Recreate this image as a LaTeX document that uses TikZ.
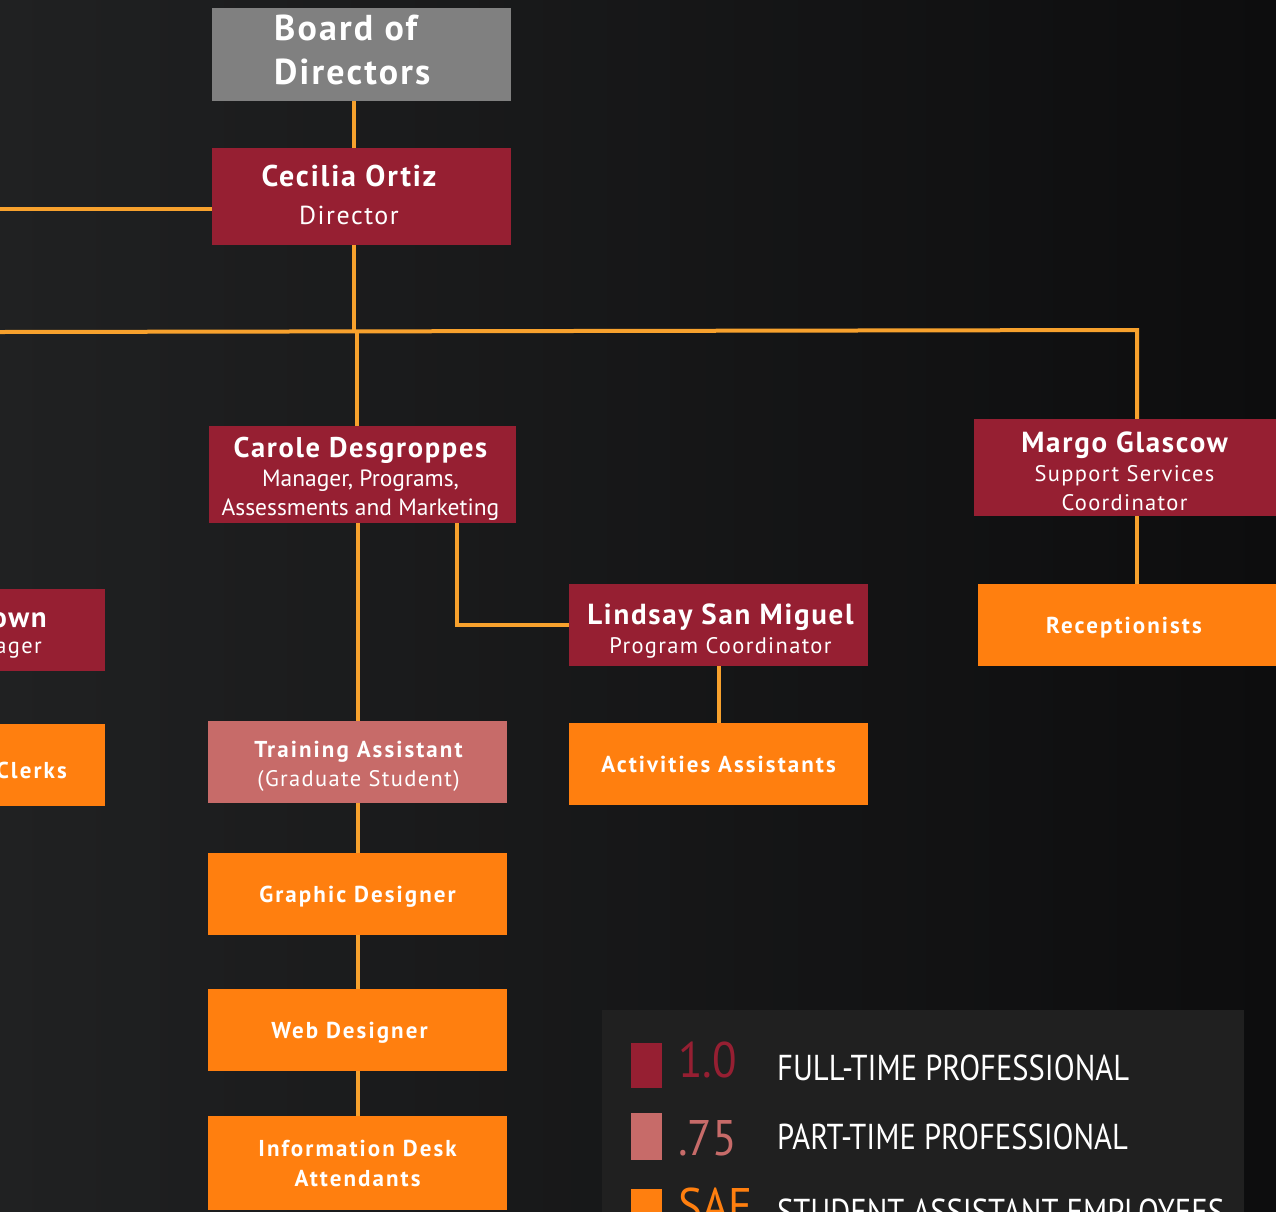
\documentclass[tikz,border=0pt]{standalone}
\usepackage{fontspec}
\setmainfont{PT Sans}
\newfontfamily\lsA[LetterSpace=6]{PT Sans}
\newfontfamily\lsB[LetterSpace=9]{PT Sans}
\newfontfamily\condfont[FakeStretch=0.85]{PT Sans}
\newfontfamily\numfont[FakeStretch=0.9]{PT Sans}
\definecolor{crim}{HTML}{961F32}
\definecolor{pinkc}{HTML}{C76B69}
\definecolor{orng}{HTML}{FF7F0F}
\definecolor{greyb}{HTML}{808080}
\definecolor{linec}{HTML}{F7A12D}
\definecolor{bgL}{HTML}{202122}
\definecolor{bgR}{HTML}{0D0D0E}
\definecolor{legbg}{HTML}{202020}
\newcommand{\nmfont}{\lsA\bfseries\fontsize{29}{30}\selectfont}
\newcommand{\subfont}{\lsA\fontsize{22.5}{29}\selectfont}
\newcommand{\carsub}{\fontsize{23.5}{29}\selectfont}
\newcommand{\obfont}{\lsB\bfseries\fontsize{23}{30}\selectfont}
\tikzset{
  x=1pt, y=-1pt,
  box/.style={rectangle, inner sep=0pt, text=white, align=center, minimum width=299pt, minimum height=82pt, font=\fontsize{23}{30}\selectfont},
  fulltime/.style={box, fill=crim},
  parttime/.style={box, fill=pinkc},
  saebox/.style={box, fill=orng, font=\obfont, text depth=0pt},
  boardbox/.style={box, fill=greyb},
  conn/.style={draw=linec, line width=4pt},
  txt/.style={inner sep=0pt, text=white},
  boxtext/.style={txt, align=center, font=\fontsize{23}{29}\selectfont},
  legsq/.style={rectangle, inner sep=0pt, minimum width=31pt, minimum height=46pt},
}
\begin{document}
\begin{tikzpicture}
\useasboundingbox (0,0) rectangle (1276,1211);
\clip (0,0) rectangle (1276,1211);
\shade[left color=bgL, right color=bgR] (0,0) rectangle (1276,1211);

% boxes
\node[boardbox, minimum height=93pt] (board) at (361.5,54.5) {};
\node[txt, anchor=west, align=left, font=\lsA\bfseries\fontsize{36}{44}\selectfont] (boardt) at (274,50) {Board of\\Directors};
\node[fulltime, minimum height=97pt] (cecilia) at (361.5,196.5) {};
\node[txt, align=center, font=\fontsize{26}{38}\selectfont] (ceciliat) at (349,195) {{\lsA\bfseries\fontsize{30}{38}\selectfont Cecilia Ortiz}\\{\lsA\fontsize{26}{38}\selectfont Director}};

\node[fulltime, minimum width=307pt, minimum height=97pt] (carole) at (362.5,474.5) {};
\node[boxtext] (carolet) at ([xshift=-2pt,yshift=-4pt]carole.center) {{\lsA\bfseries\fontsize{28.5}{30}\selectfont Carole Desgroppes}\\{\carsub Manager, Programs,}\\{\carsub Assessments and Marketing}};

\node[fulltime, minimum width=304pt, minimum height=97pt] (margo) at (1126,467.5) {};
\node[boxtext] (margot) at ([xshift=-1.5pt,yshift=-4pt]margo.center) {{\nmfont Margo Glascow}\\{\subfont Support Services}\\{\subfont Coordinator}};

\node[fulltime] (lindsay) at (718.5,625) {};
\node[boxtext] (lindsayt) at ([xshift=2pt,yshift=-6pt]lindsay.center) {{\nmfont Lindsay San Miguel}\\{\subfont Program Coordinator}};

\node[parttime] (training) at (357.5,762) {};
\node[boxtext] (trainingt) at ([xshift=1pt,yshift=-4pt]training.center) {{\obfont Training Assistant}\\{\subfont (Graduate Student)}};

\node[saebox, minimum width=300pt] (recep) at (1128,625) {\hspace*{-8pt}Receptionists};
\node[saebox] (activ) at (718.5,764) {Activities Assistants};
\node[saebox] (graphic) at (357.5,894) {Graphic Designer};
\node[saebox] (web) at (357.5,1030) {\hspace*{-16pt}Web Designer};
\node[saebox, minimum height=94pt] (info) at (357.5,1163) {Information Desk\\Attendants};

\node[fulltime, minimum width=300pt] (leftmgr) at (-45,630) {};
\node[txt, anchor=east, font=\nmfont] (leftmgra) at (47,620) {own};
\node[txt, anchor=east, font=\subfont] (leftmgrb) at (42,650) {ager};
\node[saebox, minimum width=300pt] (clerks) at (-45,765) {};
\node[txt, anchor=east, font=\obfont] (clerkst) at (67,770) {Clerks};

% connectors
\coordinate (lft) at (0,209);
\coordinate (busL) at (0,332);
\coordinate (busR) at (1137,330);
\coordinate (junc) at (354,331);
\coordinate (junc2) at (357,331);
\draw[conn] (354,0 |- board.south) -- (354,0 |- cecilia.north);
\draw[conn] (lft) -- (lft -| cecilia.west);
\draw[conn] (354,0 |- cecilia.south) -- (junc);
\draw[conn] (busL) -- (busR) -- (busR |- margo.north);
\draw[conn] (junc2) -- (357,0 |- carole.north);
\draw[conn] (358,0 |- carole.south) -- (358,0 |- training.north);
\draw[conn] (358,0 |- training.south) -- (358,0 |- graphic.north);
\draw[conn] (358,0 |- graphic.south) -- (358,0 |- web.north);
\draw[conn] (358,0 |- web.south) -- (358,0 |- info.north);
\draw[conn] (457,0 |- carole.south) |- (lindsay.west);
\draw[conn] (719,0 |- lindsay.south) -- (719,0 |- activ.north);
\draw[conn] (1137,0 |- margo.south) -- (1137,0 |- recep.north);

% legend
\fill[legbg] (602,1010) rectangle (1244,1220);
\node[legsq, fill=crim, minimum height=45pt] (sq1) at (646.5,1065.5) {};
\node[legsq, fill=pinkc, minimum height=47pt] (sq2) at (646.5,1136.5) {};
\node[legsq, fill=orng, minimum height=45pt] (sq3) at (646.5,1211.5) {};
\node[inner sep=0pt, anchor=west, text=crim, font=\numfont\fontsize{50}{50}\selectfont] (n1) at (678,1060) {1.0};
\node[inner sep=0pt, anchor=west, text=pinkc, font=\numfont\fontsize{50}{50}\selectfont] (n2) at (678,1138) {.75};
\node[inner sep=0pt, anchor=north west, text=orng, font=\numfont\fontsize{50}{50}\selectfont] (n3) at (678,1188) {SAE};
\node[txt, anchor=west, font=\condfont\fontsize{36}{36}\selectfont] (l1) at (777,1068) {FULL-TIME PROFESSIONAL};
\node[txt, anchor=west, font=\condfont\fontsize{36}{36}\selectfont] (l2) at (777,1137) {PART-TIME PROFESSIONAL};
\node[txt, anchor=north west, font=\condfont\fontsize{36}{36}\selectfont] (l3) at (777,1199) {STUDENT ASSISTANT EMPLOYEES};
\end{tikzpicture}
\end{document}
